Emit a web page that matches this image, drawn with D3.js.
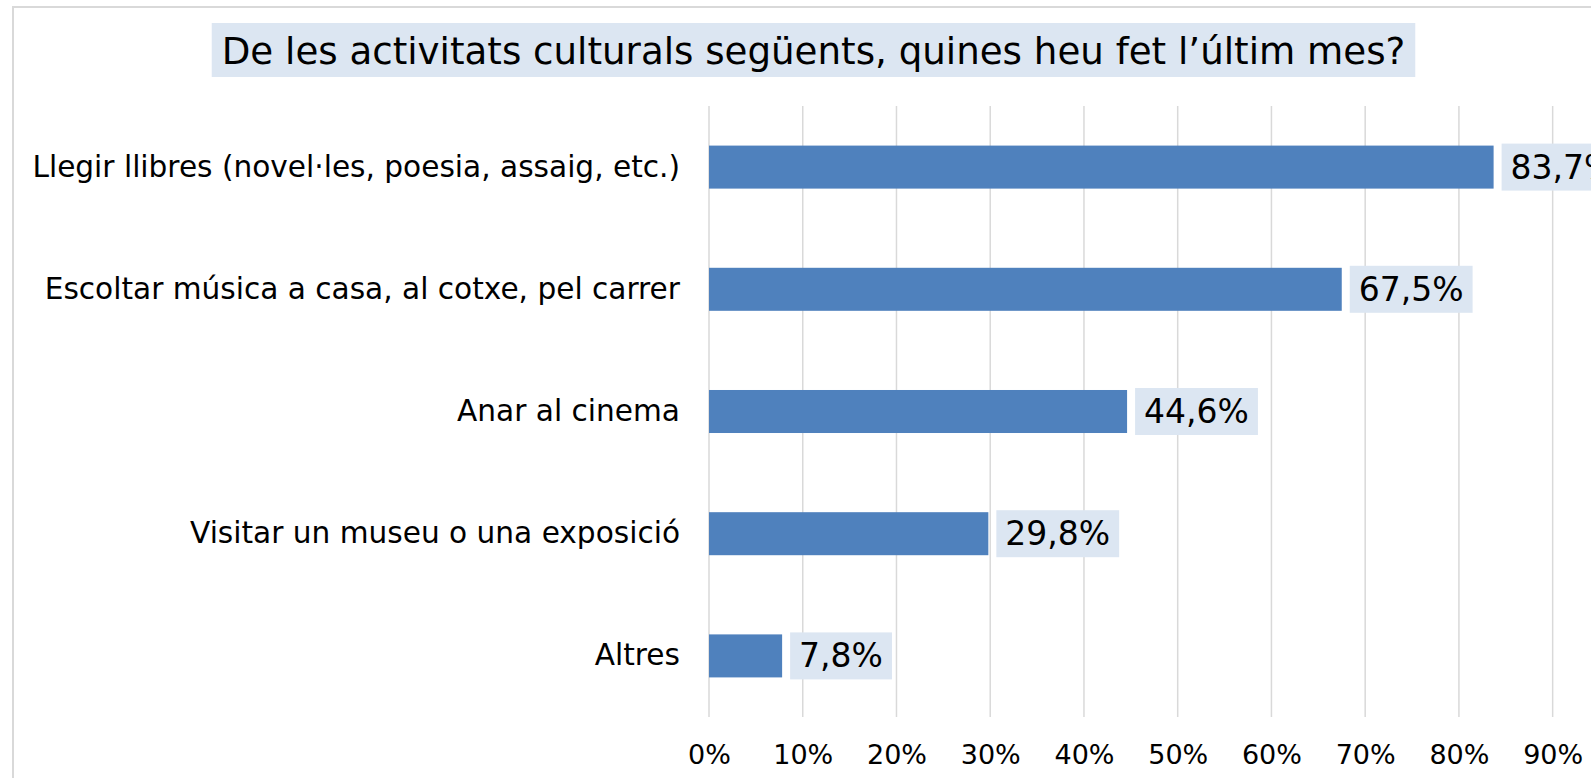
<!DOCTYPE html>
<html lang="ca">
  <head>
    <meta charset="UTF-8" />
    <title>Activitats culturals</title>
    <style>
      body {
        margin: 0;
        background-color: #fff;
        overflow: hidden;
      }
      svg {
        display: block;
        font-family: "DejaVu Sans", Verdana, sans-serif;
      }
      .grid line {
        stroke: #d9d9d9;
        stroke-width: 1.5px;
      }
      .bar {
        fill: #4f81bd;
      }
      .lbl-box,
      .title-box {
        fill: #dce6f2;
      }
    </style>
  </head>
  <body>
    <div class="container"></div>

    <script src="https://d3js.org/d3.v7.min.js"></script>
    <script>
      const categories = [
        "Llegir llibres (novel·les, poesia, assaig, etc.)",
        "Escoltar música a casa, al cotxe, pel carrer",
        "Anar al cinema",
        "Visitar un museu o una exposició",
        "Altres"
      ];
      const values = [83.7, 67.5, 44.6, 29.8, 7.8];
      const tickValues = [0, 10, 20, 30, 40, 50, 60, 70, 80, 90, 100];
      const titleText = "De les activitats culturals següents, quines heu fet l’últim mes?";

      const w = 1591,
        h = 778;

      const svg = d3
        .select(".container")
        .append("svg")
        .attr("width", w)
        .attr("height", h);

      // outer chart frame (runs off the right and bottom of the window)
      svg
        .append("rect")
        .attr("x", 13)
        .attr("y", 7)
        .attr("width", 1700)
        .attr("height", 900)
        .attr("fill", "none")
        .attr("stroke", "#d9d9d9")
        .attr("stroke-width", 2);

      // title
      const titleBox = svg.append("rect").attr("class", "title-box");
      const title = svg
        .append("text")
        .attr("x", 813.5)
        .attr("y", 51)
        .attr("text-anchor", "middle")
        .attr("dominant-baseline", "central")
        .style("font-size", "37.2px")
        .style("fill", "#000")
        .text(titleText);
      const tw = title.node().getComputedTextLength();
      titleBox
        .attr("x", 813.5 - tw / 2 - 10)
        .attr("y", 23)
        .attr("width", tw + 20)
        .attr("height", 54);

      const xScale = d3.scaleLinear().domain([0, 100]).range([709, 709 + 937.4]);
      const yScale = d3
        .scaleBand()
        .domain(categories)
        .range([106, 717])
        .paddingInner(0.648)
        .paddingOuter(0.324);

      // vertical gridlines
      svg
        .append("g")
        .attr("class", "grid")
        .selectAll("line")
        .data(tickValues)
        .enter()
        .append("line")
        .attr("x1", d => xScale(d))
        .attr("x2", d => xScale(d))
        .attr("y1", 106)
        .attr("y2", 717);

      // x axis labels
      const xAxis = d3
        .axisBottom(xScale)
        .tickValues(tickValues)
        .tickSize(0)
        .tickPadding(0)
        .tickFormat(d => d + "%");

      const gx = svg
        .append("g")
        .attr("transform", "translate(0,745)")
        .call(xAxis);
      gx.select(".domain").remove();
      gx.selectAll("text")
        .style("font-family", "DejaVu Sans, Verdana, sans-serif")
        .style("font-size", "27px")
        .style("fill", "#000");

      // category labels
      const yAxis = d3.axisLeft(yScale).tickSize(0).tickPadding(0);
      const gy = svg
        .append("g")
        .attr("transform", "translate(680,0)")
        .call(yAxis);
      gy.select(".domain").remove();
      gy.selectAll("text")
        .style("font-family", "DejaVu Sans, Verdana, sans-serif")
        .style("font-size", "29.6px")
        .style("fill", "#000");

      // bars
      const rows = categories.map((c, i) => ({ cat: c, val: values[i] }));

      svg
        .selectAll(".bar")
        .data(rows)
        .enter()
        .append("rect")
        .attr("class", "bar")
        .attr("x", xScale(0))
        .attr("y", d => yScale(d.cat))
        .attr("width", d => xScale(d.val) - xScale(0))
        .attr("height", yScale.bandwidth());

      // data labels with shaded box
      const lbl = svg
        .selectAll(".lbl")
        .data(rows)
        .enter()
        .append("g")
        .attr("class", "lbl");

      const lblBox = lbl.append("rect").attr("class", "lbl-box");
      const lblText = lbl
        .append("text")
        .attr("x", d => xScale(d.val) + 17)
        .attr("y", d => yScale(d.cat) + yScale.bandwidth() / 2)
        .attr("dominant-baseline", "central")
        .style("font-size", "33px")
        .style("fill", "#000")
        .text(d => d.val.toFixed(1).replace(".", ",") + "%");

      lblText.each(function (d, i) {
        const tl = this.getComputedTextLength();
        d3.select(lblBox.nodes()[i])
          .attr("x", xScale(d.val) + 8)
          .attr("y", yScale(d.cat) + yScale.bandwidth() / 2 - 23.5)
          .attr("width", tl + 18)
          .attr("height", 47);
      });
    </script>
  </body>
</html>
